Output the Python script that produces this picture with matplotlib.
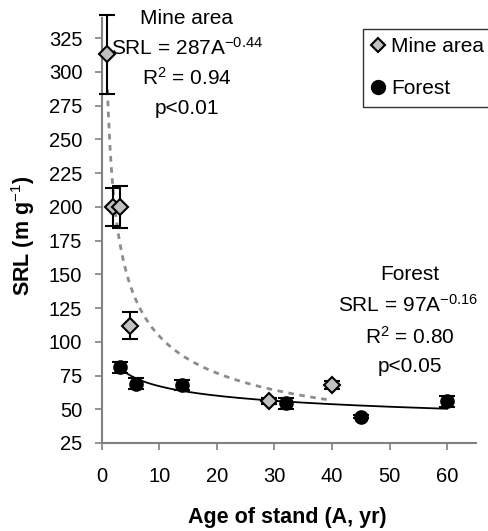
import matplotlib
matplotlib.use("Agg")
import matplotlib.pyplot as plt
import numpy as np
from matplotlib.lines import Line2D

plt.rcParams['font.family'] = ['Liberation Sans', 'DejaVu Sans']
plt.rcParams['mathtext.fontset'] = 'custom'
plt.rcParams['mathtext.rm'] = 'Liberation Sans'
plt.rcParams['mathtext.it'] = 'Liberation Sans:italic'
plt.rcParams['mathtext.bf'] = 'Liberation Sans:bold'

# Data
mine_age = [1, 2, 3.2, 5, 29, 40]
mine_srl = [313, 200, 200, 112, 56, 68]
mine_err = [29, 14, 15.5, 10, 2, 3]

forest_age = [3.2, 6, 14, 32, 45, 60]
forest_srl = [81, 69, 68, 54.5, 44.5, 56]
forest_err = [4, 4, 4, 4, 1, 4]

mine_a, mine_b = 287, -0.44
forest_a, forest_b = 97, -0.16

xticks = [0, 10, 20, 30, 40, 50, 60]
yticks = [25, 50, 75, 100, 125, 150, 175, 200, 225, 250, 275, 300, 325]

W, H = 488, 531
fig = plt.figure(figsize=(W / 100, H / 100), dpi=100)
ax = fig.add_axes([101.7 / W, (H - 443) / H, (476 - 101.7) / W, (443 - 18) / H])

# Fit curves
xm = np.linspace(1, 40, 300)
ax.plot(xm, mine_a * xm ** mine_b, color='#8c8c8c', lw=2, ls=(0, (2, 2)), zorder=1)
xf = np.linspace(3.2, 60, 300)
ax.plot(xf, forest_a * xf ** forest_b, color='black', lw=1.3, zorder=1)

# Points
e1 = ax.errorbar(mine_age, mine_srl, yerr=mine_err, fmt='D', ms=8.5, mfc='#C0C0C0',
                 mec='black', mew=1.5, ecolor='black', elinewidth=1.5, capsize=5.5,
                 capthick=1.5, label='Mine area', zorder=3)
e2 = ax.errorbar(forest_age, forest_srl, yerr=forest_err, fmt='o', ms=9.5, mfc='black',
                 mec='black', ecolor='black', elinewidth=1.5, capsize=5.5,
                 capthick=1.5, label='Forest', zorder=3)
for e in (e1, e2):
    for child in e.get_children():
        child.set_clip_on(False)

ax.set_xlim(0, 65)
ax.set_ylim(25, 340)
ax.set_xticks(xticks)
ax.set_yticks(yticks)
for s in ['top', 'right']:
    ax.spines[s].set_visible(False)
for s in ['left', 'bottom']:
    ax.spines[s].set_color('#808080')
    ax.spines[s].set_linewidth(1.5)
ax.tick_params(axis='both', direction='out', length=5, width=1.2, color='#808080',
               labelsize=14.5, labelcolor='black')
ax.tick_params(axis='x', pad=12)
ax.tick_params(axis='y', pad=9)

ax.set_xlabel('Age of stand (A, yr)', fontsize=15.5, fontweight='bold')
ax.set_ylabel(r'SRL (m g$^{-1}$)', fontsize=15.5, fontweight='bold')
ax.xaxis.set_label_coords(287 / W, 1 - 517 / H, transform=fig.transFigure)
ax.yaxis.set_label_coords(23 / W, 1 - 236 / H, transform=fig.transFigure)
ax.xaxis.label.set_va('center')
ax.yaxis.label.set_va('center')

# Annotations
def ftext(px, py, s, **kw):
    fig.text(px / W, 1 - py / H, s, ha='center', va='center', fontsize=15, **kw)

ftext(187, 18, 'Mine area')
ftext(187, 48, r'SRL = 287A$^{-0.44}$')
ftext(187, 78, r'R$^{2}$ = 0.94')
ftext(187, 108, 'p<0.01')

ftext(410, 275, 'Forest')
ftext(408, 305, r'SRL = 97A$^{-0.16}$')
ftext(410, 337, r'R$^{2}$ = 0.80')
ftext(410, 367, 'p<0.05')

# Legend
handles = [Line2D([], [], marker='D', ls='none', ms=7.5, mfc='#C0C0C0', mec='black', mew=1.5),
           Line2D([], [], marker='o', ls='none', ms=10, mfc='black', mec='black')]
leg = ax.legend(handles, ['Mine area', 'Forest'], loc='upper left',
                bbox_to_anchor=(363 / W, 1 - 29 / H), bbox_transform=fig.transFigure,
                fontsize=15, frameon=True, fancybox=False, handlelength=0.6,
                handletextpad=0.35, borderpad=0.4, labelspacing=1.1, borderaxespad=0)
leg.get_frame().set_edgecolor('black')
leg.get_frame().set_linewidth(1.0)

fig.savefig('out.png', dpi=100)
